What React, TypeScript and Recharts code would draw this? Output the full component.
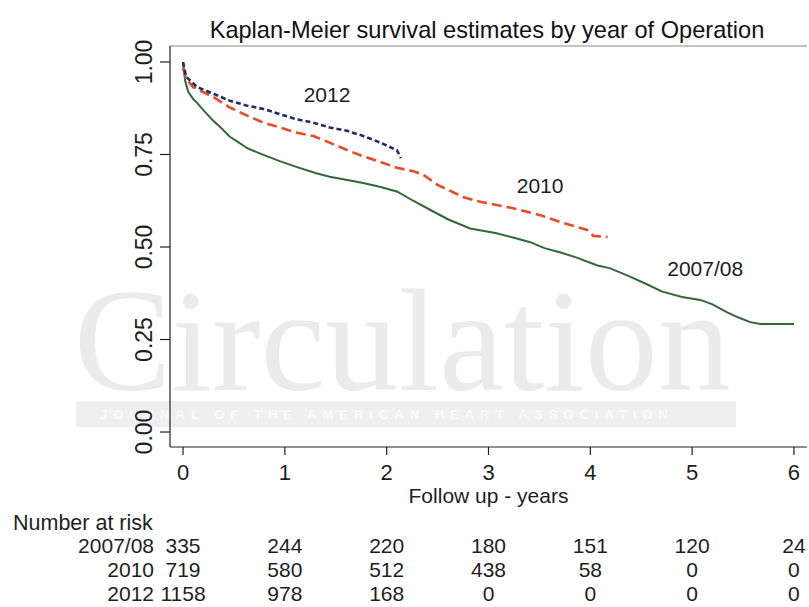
import React from 'react';
import { LineChart, Line, XAxis, YAxis, ReferenceDot } from 'recharts';

// ---- data ----
const yearTicks = [0, 1, 2, 3, 4, 5, 6];
const survTicks = [0, 0.25, 0.5, 0.75, 1];
const groupNames = ['2007/08', '2010', '2012'];

const risk0708 = [335, 244, 220, 180, 151, 120, 24];
const risk2010 = [719, 580, 512, 438, 58, 0, 0];
const risk2012 = [1158, 978, 168, 0, 0, 0, 0];

const time0708 = [0, 0.02, 0.05, 0.1, 0.14, 0.2, 0.29, 0.38, 0.46, 0.55, 0.63, 0.79, 0.95, 1.12, 1.3, 1.44, 1.6, 1.77, 1.94, 2.1, 2.26, 2.43, 2.6, 2.82, 3.08, 3.25, 3.41, 3.55, 3.7, 3.88, 4.07, 4.19, 4.39, 4.55, 4.7, 4.9, 5.08, 5.2, 5.34, 5.45, 5.57, 5.67, 6.0];
const surv0708 = [1.0, 0.95, 0.92, 0.9, 0.889, 0.87, 0.843, 0.82, 0.798, 0.782, 0.767, 0.749, 0.732, 0.716, 0.7, 0.69, 0.682, 0.673, 0.662, 0.65, 0.625, 0.6, 0.575, 0.55, 0.537, 0.525, 0.513, 0.497, 0.486, 0.47, 0.45, 0.443, 0.42, 0.4, 0.38, 0.365, 0.357, 0.345, 0.324, 0.31, 0.297, 0.292, 0.292];

const time2010 = [0, 0.03, 0.1, 0.3, 0.46, 0.63, 0.79, 0.95, 1.12, 1.28, 1.44, 1.61, 1.77, 1.94, 2.1, 2.26, 2.36, 2.5, 2.75, 2.92, 3.24, 3.51, 3.7, 3.97, 4.03, 4.17];
const surv2010 = [0.984, 0.955, 0.932, 0.905, 0.877, 0.855, 0.836, 0.823, 0.809, 0.8, 0.782, 0.762, 0.745, 0.73, 0.714, 0.705, 0.695, 0.668, 0.635, 0.622, 0.605, 0.586, 0.568, 0.546, 0.53, 0.527];

const time2012 = [0, 0.03, 0.14, 0.3, 0.46, 0.63, 0.79, 0.95, 1.12, 1.28, 1.44, 1.61, 1.77, 1.94, 2.07, 2.1, 2.14];
const surv2012 = [1.0, 0.96, 0.932, 0.914, 0.895, 0.882, 0.873, 0.859, 0.845, 0.836, 0.823, 0.814, 0.8, 0.782, 0.765, 0.762, 0.74];

const toSeries = (ts: number[], ss: number[]) => ts.map((t, i) => ({ t, s: ss[i] }));
const data0708 = toSeries(time0708, surv0708);
const data2010 = toSeries(time2010, surv2010);
const data2012 = toSeries(time2012, surv2012);
const riskRows = [risk0708, risk2010, risk2012];

const FONT = '"Liberation Sans", Arial, sans-serif';
const TXT = '#1e1e1e';

const YTick = (props: any) => {
  const { x, y, payload } = props;
  return (
    <text transform={`translate(${x - 6},${y}) rotate(-90)`} textAnchor="middle" fontSize={23} fontFamily={FONT} fill={TXT}>
      {Number(payload.value).toFixed(2)}
    </text>
  );
};

const XTick = (props: any) => {
  const { x, y, payload } = props;
  return (
    <text x={x} y={y + 23} textAnchor="middle" fontSize={22} fontFamily={FONT} fill={TXT}>
      {payload.value}
    </text>
  );
};

const makeRiskTick = (row: number) => (props: any) => {
  const { x, y, index } = props;
  const vals = riskRows[row];
  const idx = yearTicks.indexOf(Number(props.payload.value));
  return (
    <g>
      {index === 0 ? (
        <text x={x - 29} y={y + 23} textAnchor="end" fontSize={21} fontFamily={FONT} fill={TXT}>
          {groupNames[row]}
        </text>
      ) : null}
      <text x={x} y={y + 23} textAnchor="middle" fontSize={21} fontFamily={FONT} fill={TXT}>
        {vals[idx]}
      </text>
    </g>
  );
};

const AxisTitle = (props: any) => {
  const vb = props.viewBox || { x: 170, y: 447, width: 637, height: 83 };
  return (
    <g>
      <text x={vb.x + vb.width / 2} y={vb.y + 56} textAnchor="middle" fontSize={21} fontFamily={FONT} fill={TXT}>
        Follow up - years
      </text>
      <text x={13} y={vb.y + 83} textAnchor="start" fontSize={21.5} fontFamily={FONT} fill={TXT}>
        Number at risk
      </text>
    </g>
  );
};

const GroupLabel = (props: any) => {
  const { viewBox, value } = props;
  const cx = viewBox.x + (viewBox.width || 0) / 2;
  const cy = viewBox.y + (viewBox.height || 0) / 2;
  return (
    <text x={cx} y={cy + 7.5} textAnchor="middle" fontSize={21} fontFamily={FONT} fill={TXT}>
      {value}
    </text>
  );
};

const X_DOMAIN: [number, number] = [-0.128, 6.128];
const Y_DOMAIN: [number, number] = [-0.0405, 1.0432];

export default function App() {
  return (
    <div style={{ position: 'absolute', left: 0, top: 0, width: 809, height: 607, background: '#fff' }}>
      <svg width={809} height={607} style={{ position: 'absolute', left: 0, top: 0 }}>
        <text x={487} y={38} textAnchor="middle" fontSize={23.6} fontFamily={FONT} fill="#111">
          Kaplan-Meier survival estimates by year of Operation
        </text>
        <text x={74} y={390} fontSize={146} fontFamily='"Liberation Serif", "Times New Roman", serif' fill="#ebebeb">
          Circulation
        </text>
        <rect x={76} y={401} width={660} height={26} fill="#efefef" />
        <text x={100} y={419} fontSize={13} letterSpacing={6} fontFamily={FONT} fill="#f9f9f9" fontWeight="bold">
          JOURNAL OF THE AMERICAN HEART ASSOCIATION
        </text>
      </svg>
      <div style={{ position: 'absolute', left: 0, top: 0 }}>
        <LineChart width={809} height={607} margin={{ top: 45, right: 2, left: 0, bottom: 5 }}>
          <XAxis
            xAxisId="main"
            dataKey="t"
            type="number"
            domain={X_DOMAIN}
            ticks={yearTicks}
            allowDataOverflow
            height={83}
            tickSize={8}
            tickMargin={2}
            tick={<XTick />}
            axisLine={{ stroke: '#222', strokeWidth: 1.2 }}
            tickLine={{ stroke: '#222', strokeWidth: 1.2 }}
            label={<AxisTitle />}
          />
          {[0, 1, 2].map((r) => (
            <XAxis
              key={`rx${r}`}
              xAxisId={`risk${r}`}
              dataKey="t"
              type="number"
              domain={X_DOMAIN}
              ticks={yearTicks}
              allowDataOverflow
              height={24}
              tickSize={0}
              tickMargin={0}
              axisLine={false}
              tickLine={false}
              tick={makeRiskTick(r)}
            />
          ))}
          <XAxis
            xAxisId="top"
            orientation="top"
            dataKey="t"
            type="number"
            domain={X_DOMAIN}
            allowDataOverflow
            height={1}
            tick={false}
            tickLine={false}
            axisLine={{ stroke: '#8a8a8a', strokeWidth: 1 }}
          />
          <YAxis
            yAxisId="main"
            type="number"
            domain={Y_DOMAIN}
            ticks={survTicks}
            allowDataOverflow
            width={170}
            tickSize={10}
            tickMargin={2}
            tick={<YTick />}
            axisLine={{ stroke: '#222', strokeWidth: 1.2 }}
            tickLine={{ stroke: '#222', strokeWidth: 1.2 }}
          />
          <YAxis
            yAxisId="right"
            orientation="right"
            type="number"
            domain={Y_DOMAIN}
            allowDataOverflow
            width={0}
            tick={false}
            tickLine={false}
            axisLine={{ stroke: '#8a8a8a', strokeWidth: 1 }}
          />
          {/* invisible carriers so the auxiliary axes (risk rows, frame) are drawn */}
          {[0, 1, 2].map((r) => (
            <Line
              key={`rl${r}`}
              xAxisId={`risk${r}`}
              yAxisId="main"
              data={data0708}
              dataKey="s"
              stroke="none"
              strokeWidth={0}
              dot={false}
              activeDot={false}
              legendType="none"
              isAnimationActive={false}
            />
          ))}
          <Line
            xAxisId="top"
            yAxisId="right"
            data={data0708}
            dataKey="s"
            stroke="none"
            strokeWidth={0}
            dot={false}
            activeDot={false}
            legendType="none"
            isAnimationActive={false}
          />
          <Line
            xAxisId="main"
            yAxisId="main"
            data={data0708}
            dataKey="s"
            type="linear"
            stroke="#2f6a35"
            strokeWidth={2}
            dot={false}
            isAnimationActive={false}
          />
          <Line
            xAxisId="main"
            yAxisId="main"
            data={data2010}
            dataKey="s"
            type="linear"
            stroke="#ea4a24"
            strokeWidth={2.6}
            strokeDasharray="10 5"
            dot={false}
            isAnimationActive={false}
          />
          <Line
            xAxisId="main"
            yAxisId="main"
            data={data2012}
            dataKey="s"
            type="linear"
            stroke="#1d2f68"
            strokeWidth={2.6}
            strokeDasharray="5 3"
            dot={false}
            isAnimationActive={false}
          />
          <ReferenceDot xAxisId="main" yAxisId="main" x={1.414} y={0.911} r={0} fill="none" stroke="none" label={<GroupLabel value="2012" />} />
          <ReferenceDot xAxisId="main" yAxisId="main" x={3.507} y={0.665} r={0} fill="none" stroke="none" label={<GroupLabel value="2010" />} />
          <ReferenceDot xAxisId="main" yAxisId="main" x={5.128} y={0.443} r={0} fill="none" stroke="none" label={<GroupLabel value="2007/08" />} />
        </LineChart>
      </div>
    </div>
  );
}
